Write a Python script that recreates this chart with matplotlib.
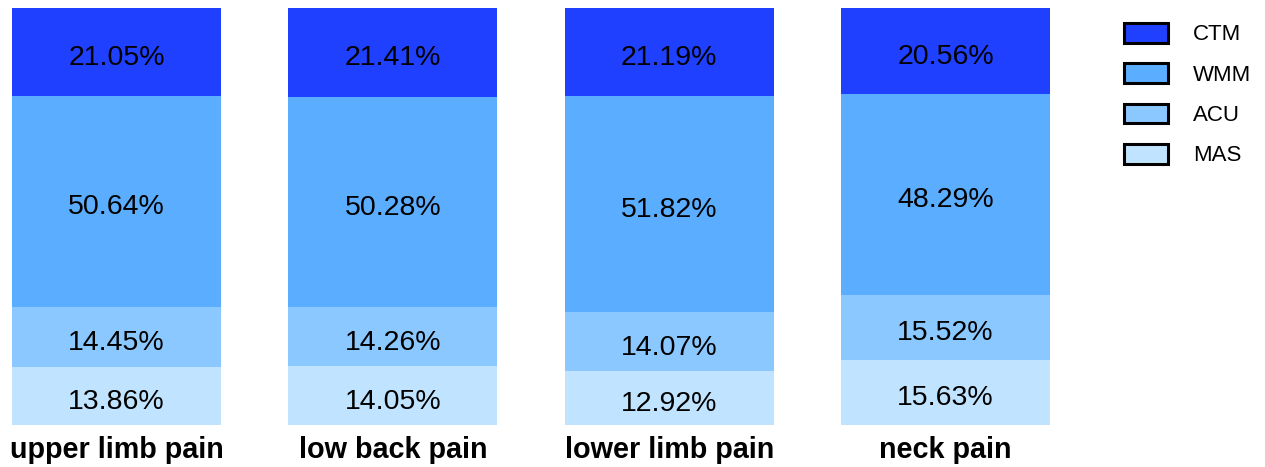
import matplotlib
matplotlib.use("Agg")
import matplotlib.pyplot as plt
from matplotlib.patches import Patch
import numpy as np

plt.rcParams["font.family"] = ["Liberation Sans", "DejaVu Sans"]

categories = ["upper limb pain", "low back pain", "lower limb pain", "neck pain"]
series = ["MAS", "ACU", "WMM", "CTM"]  # bottom -> top
values = {
    "MAS": [13.86, 14.05, 12.92, 15.63],
    "ACU": [14.45, 14.26, 14.07, 15.52],
    "WMM": [50.64, 50.28, 51.82, 48.29],
    "CTM": [21.05, 21.41, 21.19, 20.56],
}
colors = {"MAS": "#C0E4FF", "ACU": "#8AC8FF", "WMM": "#5AADFF", "CTM": "#1F40FF"}

W, H = 1265, 467
fig = plt.figure(figsize=(W / 100, H / 100), dpi=100)
ax = fig.add_axes([12 / W, 42 / H, (1050 - 12) / W, (425 - 8) / H])

x = np.arange(len(categories))
bw = 0.756
bottom = np.zeros(len(categories))
for s in series:
    v = np.array(values[s])
    ax.bar(x, v, bw, bottom=bottom, color=colors[s], edgecolor="none")
    for xi, b, vi in zip(x, bottom, v):
        ax.text(xi, b + vi / 2 - 1.4, f"{vi:.2f}%", ha="center", va="center",
                fontsize=20.5, color="black")
    bottom += v

ax.set_xlim(-bw / 2, len(categories) - 1 + bw / 2)
ax.set_ylim(0, 100)
ax.set_xticks(x)
ax.set_xticklabels(categories, fontsize=20.7, fontweight="bold")
ax.tick_params(axis="x", length=0, pad=8)
ax.set_yticks([])
for sp in ax.spines.values():
    sp.set_visible(False)

handles = [Patch(facecolor=colors[s], edgecolor="black", linewidth=2.2, label=s)
           for s in series[::-1]]
fig.legend(handles=handles, loc="upper left", bbox_to_anchor=(1115 / W, 1 - 14 / H),
           frameon=False, fontsize=16, handlelength=2.0, handleheight=1.0,
           labelspacing=0.8, handletextpad=1.1, borderaxespad=0)

fig.savefig("out.png", dpi=100)
